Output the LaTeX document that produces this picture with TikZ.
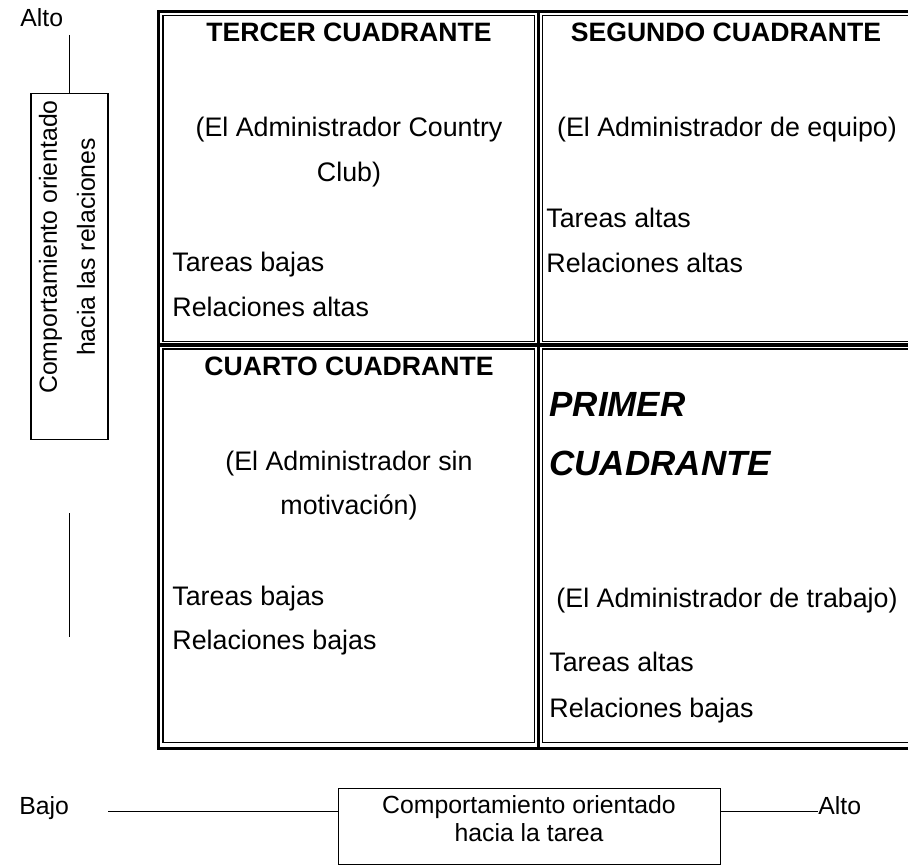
\documentclass[tikz,border=0pt]{standalone}
\usepackage{fontspec}
\setmainfont{Liberation Sans}
\usetikzlibrary{positioning, calc}

\begin{document}
\begin{tikzpicture}[x=0.5pt, y=-0.5pt,
  thinrule/.style={line width=0.75pt},
  thickrule/.style={line width=1.9pt},
  celltext/.style={anchor=base west, inner sep=0pt, font=\fontsize{13.4}{22.5}\selectfont},
  ctrtext/.style={anchor=base, inner sep=0pt, font=\fontsize{13.4}{22.5}\selectfont},
  quadtitle/.style={anchor=base, inner sep=0pt, font=\fontsize{13.3}{22.5}\selectfont\bfseries},
  bigtitle/.style={anchor=base west, inner sep=0pt, font=\fontsize{17.5}{30}\selectfont\bfseries\itshape},
  axistext/.style={inner sep=0pt, font=\fontsize{12.4}{14}\selectfont},
  axisbox/.style={draw, line width=0.6pt, inner sep=0pt},
  axisline/.style={line width=0.6pt}]
  \useasboundingbox (0,0) rectangle (908,865);
  \clip (0,0) rectangle (908,865);

  \draw[thinrule] (163,15.5) rectangle (534.5,341.5);
  \draw[thinrule] (542.5,15.5) rectangle (920,341.5);
  \draw[thinrule] (163,349) rectangle (534.5,742.5);
  \draw[thinrule] (542.5,349) rectangle (920,742.5);
  \draw[thickrule] (920,11.5) -- (158.5,11.5) -- (158.5,748.5) -- (920,748.5);
  \draw[thickrule] (538.5,11.5) -- (538.5,748.5);
  \draw[thickrule] (158.5,345) -- (920,345);

  \node[quadtitle] (tercer) at (349,42) {TERCER CUADRANTE};
  \node[ctrtext] (tercerA) at (349,137) {(El Administrador Country};
  \node[ctrtext] (tercerB) at (349,182) {Club)};
  \node[celltext] (tercerC) at (172,272) {Tareas bajas};
  \node[celltext] (tercerD) at (172,317) {Relaciones altas};

  \node[quadtitle] (segundo) at (726,42) {SEGUNDO CUADRANTE};
  \node[ctrtext] (segundoA) at (727,137) {(El Administrador de equipo)};
  \node[celltext] (segundoB) at (546,228) {Tareas altas};
  \node[celltext] (segundoC) at (546,273) {Relaciones altas};

  \node[quadtitle] (cuarto) at (349,376) {CUARTO CUADRANTE};
  \node[ctrtext] (cuartoA) at (349,470) {(El Administrador sin};
  \node[ctrtext] (cuartoB) at (349,514) {motivación)};
  \node[celltext] (cuartoC) at (172,605) {Tareas bajas};
  \node[celltext] (cuartoD) at (172,649) {Relaciones bajas};

  \node[bigtitle] (primer) at (549,416) {PRIMER};
  \node[bigtitle] (primerB) at (549,475) {CUADRANTE};
  \node[ctrtext] (primerA) at (727,607) {(El Administrador de trabajo)};
  \node[celltext] (primerC) at (549,671) {Tareas altas};
  \node[celltext] (primerD) at (549,717) {Relaciones bajas};

  \node[axistext, anchor=base west] (altoV) at (20,27) {Alto};
  \coordinate (vtop) at (69.5,35);
  \node[axisbox, minimum width=38.5pt, minimum height=173pt, anchor=north] (relbox) at (69.5,93) {};
  \node[axistext, rotate=90, align=center, font=\fontsize{12.4}{19}\selectfont] (reltext) at (67,247) {Comportamiento orientado\\hacia las relaciones};
  \draw[axisline] (vtop) -- (relbox.north);
  \coordinate (vlowA) at (69.5,513);
  \coordinate (vlowB) at (69.5,637);
  \draw[axisline] (vlowA) -- (vlowB);

  \node[axistext, anchor=base west] (bajo) at (19,814) {Bajo};
  \node[axisbox, minimum width=191pt, minimum height=38pt, anchor=north west] (tareabox) at (338,788) {};
  \node[axistext, align=center] (tareatext) at (529,819) {Comportamiento orientado\\hacia la tarea};
  \node[axistext, anchor=base west] (altoH) at (818,814) {Alto};
  \coordinate (hstart) at (108,811.5);
  \draw[axisline] (hstart) -- (tareabox.west |- hstart);
  \draw[axisline] (tareabox.east |- hstart) -- (altoH.west |- hstart);
\end{tikzpicture}
\end{document}
